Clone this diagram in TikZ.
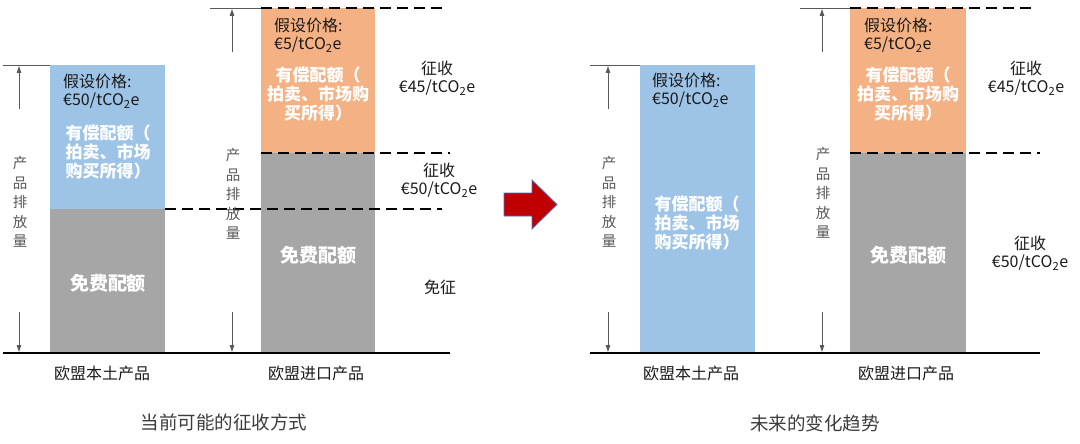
\documentclass[tikz,border=0pt]{standalone}
\usepackage{fontspec}
\newfontfamily\cjk{Noto Sans CJK SC}
\usetikzlibrary{arrows.meta}
\definecolor{blu}{HTML}{9DC3E6}
\definecolor{ora}{HTML}{F4B183}
\definecolor{gry}{HTML}{A6A6A6}
\definecolor{txt}{HTML}{1A1A1A}
\definecolor{vt}{HTML}{595959}
\definecolor{arrfill}{HTML}{C00000}
\definecolor{arrline}{HTML}{4472C4}
\newcommand{\cotwo}{tCO\textsubscript{2}e}
\begin{document}
\begin{tikzpicture}[x=1pt,y=-1pt,
  lbl/.style={font=\cjk\fontsize{16}{18.5}\selectfont, text=txt, inner sep=0, align=center},
  lbll/.style={lbl, align=left, anchor=west},
  wlbl/.style={font=\cjk\bfseries\fontsize{17}{19}\selectfont, text=white, inner sep=0, align=center},
  flbl/.style={font=\cjk\bfseries\fontsize{19}{20}\selectfont, text=white, inner sep=0},
  vlbl/.style={font=\cjk\fontsize{14.5}{19.5}\selectfont, text=vt, inner sep=0, align=center},
  captxt/.style={font=\cjk\fontsize{18.5}{20}\selectfont, text=txt!85, inner sep=0},
  dline/.style={line width=2.8pt, dash pattern=on 11pt off 6pt},
  baseln/.style={line width=2pt},
  tickln/.style={line width=0.9pt, draw=vt},
  dimarr/.style={line width=0.9pt, draw=vt, -{Triangle[length=7pt,width=4.5pt]}}
]
\useasboundingbox (0,0) rectangle (1080,444);

% ================= LEFT PANEL =================
\fill[blu] (50,65) rectangle (165,209);
\fill[gry] (50,209) rectangle (165,353);
\fill[ora] (261,8) rectangle (375,153);
\fill[gry] (261,153) rectangle (375,353);

\coordinate (L0) at (3,353);   \coordinate (L1) at (450,353);
\coordinate (Lt0) at (3,65);   \coordinate (Lt1) at (50,65);
\coordinate (Lt2) at (210,8);  \coordinate (Lt3) at (261,8);
\coordinate (Ld0) at (165,209); \coordinate (Ld1) at (442,209);
\coordinate (Ld2) at (261,153); \coordinate (Ld3) at (450,153);
\coordinate (Ld4) at (261,8);   \coordinate (Ld5) at (444,8);
\coordinate (La0) at (19,109);  \coordinate (La1) at (19,66);
\coordinate (La2) at (19,312);  \coordinate (La3) at (19,352);
\coordinate (La4) at (232,52);  \coordinate (La5) at (232,9);
\coordinate (La6) at (232,312); \coordinate (La7) at (232,352);

\draw[tickln] (Lt0) -- (Lt1);
\draw[tickln] (Lt2) -- (Lt3);
\draw[dimarr] (La0) -- (La1);
\draw[dimarr] (La2) -- (La3);
\draw[dimarr] (La4) -- (La5);
\draw[dimarr] (La6) -- (La7);
\draw[dline] (Ld0) -- (Ld1);
\draw[dline] (Ld2) -- (Ld3);
\draw[dline] (Ld4) -- (Ld5);
\draw[baseln] (L0) -- (L1);

\node[vlbl] (Lv1) at (20,202) {产\\品\\排\\放\\量};
\node[vlbl] (Lv2) at (233,194) {产\\品\\排\\放\\量};

\node[lbll] (Lp1) at (63,91) {假设价格:\\€50/\cotwo};
\node[wlbl] (Lw1) at (108,152) {有偿配额（\\拍卖、市场\\购买所得）};
\node[flbl] (Lf1) at (108,283) {免费配额};

\node[lbll] (Lp2) at (274,35) {假设价格:\\€5/\cotwo};
\node[wlbl] (Lw2) at (318,94) {有偿配额（\\拍卖、市场购\\买所得）};
\node[flbl] (Lf2) at (318,255) {免费配额};

\node[lbl] (Lc1) at (437,78) {征收\\€45/\cotwo};
\node[lbl] (Lc2) at (439,180) {征收\\€50/\cotwo};
\node[lbl] (Lc3) at (440,287) {免征};

\node[lbl] (Lb1) at (102,373) {欧盟本土产品};
\node[lbl] (Lb2) at (316,373) {欧盟进口产品};
\node[captxt] (Lcap) at (224,422) {当前可能的征收方式};

% ================= ARROW =================
\draw[fill=arrfill, draw=arrline, line width=0.8pt, line join=miter]
  (504,193) -- (532,193) -- (532,180) -- (557,204.5) -- (532,229) -- (532,216) -- (504,216) -- cycle;

% ================= RIGHT PANEL =================
\fill[blu] (640,65) rectangle (755,353);
\fill[ora] (850,8) rectangle (966,153);
\fill[gry] (850,153) rectangle (966,353);

\coordinate (R0) at (590,353);  \coordinate (R1) at (1040,353);
\coordinate (Rt0) at (590,65);  \coordinate (Rt1) at (640,65);
\coordinate (Rt2) at (800,8);   \coordinate (Rt3) at (850,8);
\coordinate (Rd2) at (850,153); \coordinate (Rd3) at (1040,153);
\coordinate (Rd4) at (850,8);   \coordinate (Rd5) at (1034,8);
\coordinate (Ra0) at (608,109); \coordinate (Ra1) at (608,66);
\coordinate (Ra2) at (608,312); \coordinate (Ra3) at (608,352);
\coordinate (Ra4) at (822,52);  \coordinate (Ra5) at (822,9);
\coordinate (Ra6) at (822,312); \coordinate (Ra7) at (822,352);

\draw[tickln] (Rt0) -- (Rt1);
\draw[tickln] (Rt2) -- (Rt3);
\draw[dimarr] (Ra0) -- (Ra1);
\draw[dimarr] (Ra2) -- (Ra3);
\draw[dimarr] (Ra4) -- (Ra5);
\draw[dimarr] (Ra6) -- (Ra7);
\draw[dline] (Rd2) -- (Rd3);
\draw[dline] (Rd4) -- (Rd5);
\draw[baseln] (R0) -- (R1);

\node[vlbl] (Rv1) at (609,202) {产\\品\\排\\放\\量};
\node[vlbl] (Rv2) at (823,193) {产\\品\\排\\放\\量};

\node[lbll] (Rp1) at (652,90) {假设价格:\\€50/\cotwo};
\node[wlbl] (Rw1) at (697,223) {有偿配额（\\拍卖、市场\\购买所得）};

\node[lbll] (Rp2) at (864,35) {假设价格:\\€5/\cotwo};
\node[wlbl] (Rw2) at (908,94) {有偿配额（\\拍卖、市场购\\买所得）};
\node[flbl] (Rf2) at (908,255) {免费配额};

\node[lbl] (Rc1) at (1026,78) {征收\\€45/\cotwo};
\node[lbl] (Rc2) at (1030,253) {征收\\€50/\cotwo};

\node[lbl] (Rb1) at (691,373) {欧盟本土产品};
\node[lbl] (Rb2) at (906,373) {欧盟进口产品};
\node[captxt] (Rcap) at (815,423) {未来的变化趋势};
\end{tikzpicture}
\end{document}
